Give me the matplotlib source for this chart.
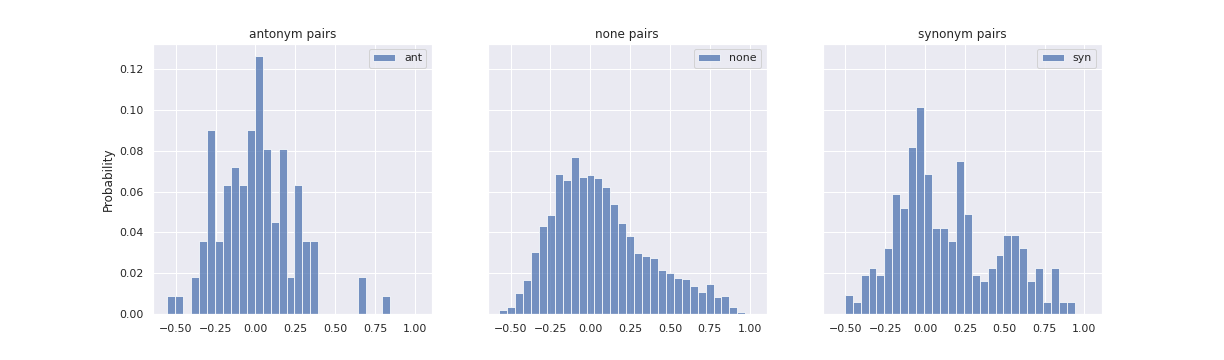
import matplotlib
matplotlib.use("Agg")
import matplotlib.pyplot as plt
import seaborn as sns
import numpy as np

# bin setup (start of first bin, width)
bin_width = 0.0498
ant_start = -0.552
none_start = -0.571
syn_start = -0.504

# probability per bin
ant_prob = [0.009, 0.009, 0.0, 0.018, 0.036, 0.090, 0.036, 0.063, 0.072, 0.063,
            0.090, 0.126, 0.081, 0.045, 0.081, 0.018, 0.063, 0.036, 0.036, 0.0,
            0.0, 0.0, 0.0, 0.0, 0.018, 0.0, 0.0, 0.009]
none_prob = [0.0020, 0.0036, 0.0104, 0.0168, 0.0304, 0.0431, 0.0485, 0.0685, 0.0656, 0.0769,
             0.0671, 0.0681, 0.0666, 0.0622, 0.0541, 0.0446, 0.0383, 0.0300, 0.0285, 0.0275,
             0.0217, 0.0202, 0.0179, 0.0174, 0.0138, 0.0109, 0.0148, 0.0085, 0.0090, 0.0036,
             0.0011]
syn_prob = [0.0092, 0.0059, 0.0192, 0.0226, 0.0192, 0.0324, 0.0588, 0.0519, 0.0817, 0.1013,
            0.0685, 0.0422, 0.0422, 0.0360, 0.0749, 0.0490, 0.0192, 0.0163, 0.0226, 0.0290,
            0.0388, 0.0388, 0.0324, 0.0163, 0.0226, 0.0059, 0.0226, 0.0059, 0.0059]

panels = [("antonym pairs", "ant", ant_start, ant_prob),
          ("none pairs", "none", none_start, none_prob),
          ("synonym pairs", "syn", syn_start, syn_prob)]

sns.set_theme()

fig, axes = plt.subplots(1, 3, figsize=(17, 5), dpi=72, sharey=True)
fig.subplots_adjust(left=0.125, right=0.9, bottom=0.127, top=0.879, wspace=0.2)

for ax, (title, label, start, probs) in zip(axes, panels):
    lefts = start + bin_width * np.arange(len(probs))
    ax.bar(lefts, probs, width=bin_width, align='edge', color='C0', alpha=0.75,
           edgecolor='white', linewidth=1, label=label)
    ax.set_title(title)
    ax.set_xticks([-0.5, -0.25, 0, 0.25, 0.5, 0.75, 1.0])
    ax.set_xlim(-0.643, 1.108)
    ax.legend(loc='upper right')

axes[0].set_ylabel('Probability')

fig.savefig('out.png')
